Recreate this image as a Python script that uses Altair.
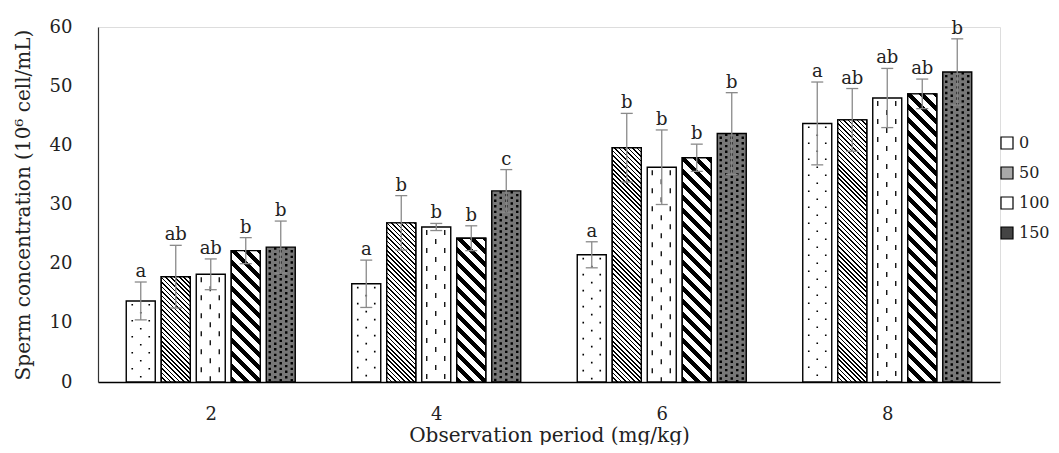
import json
import math
import altair as alt
import pandas as pd

# ---------------- data ----------------
periods = ["2", "4", "6", "8"]
doses = ["0", "50", "100", "150", "200"]
legend_doses = ["0", "50", "100", "150"]

mean_0 = [13.7, 16.6, 21.5, 43.7]
mean_50 = [17.8, 26.9, 39.6, 44.3]
mean_100 = [18.2, 26.2, 36.3, 48.0]
mean_150 = [22.2, 24.3, 37.9, 48.7]
mean_200 = [22.8, 32.3, 42.0, 52.4]

err_0 = [3.2, 4.0, 2.2, 7.0]
err_50 = [5.3, 4.6, 5.8, 5.3]
err_100 = [2.6, 0.6, 6.3, 5.0]
err_150 = [2.2, 2.1, 2.3, 2.5]
err_200 = [4.4, 3.6, 6.9, 5.6]

letters_0 = ["a", "a", "a", "a"]
letters_50 = ["ab", "b", "b", "ab"]
letters_100 = ["ab", "b", "b", "ab"]
letters_150 = ["b", "b", "b", "ab"]
letters_200 = ["b", "c", "b", "b"]

y_ticks = [0, 10, 20, 30, 40, 50, 60]

# ---------------- layout / style ----------------
W, H = 902, 355
YMAX = 60
PX = W / len(periods)   # pixels per x unit (one period band)
PY = H / YMAX           # pixels per y unit
PITCH = 35              # px between bar centres
BW = 29                 # bar width px
CAP = 6                 # half-width of error caps px
FONT = "DejaVu Serif"

means = [mean_0, mean_50, mean_100, mean_150, mean_200]
errs = [err_0, err_50, err_100, err_150, err_200]
letters = [letters_0, letters_50, letters_100, letters_150, letters_200]

rows = []
for i, d in enumerate(doses):
    for g, p in enumerate(periods):
        m, e = means[i][g], errs[i][g]
        c = g + 0.5 + (i - 2) * PITCH / PX
        rows.append(dict(period=p, dose=d, g=g, mean=m, err=e, lo=m - e, hi=m + e,
                         letter=letters[i][g], xc=c,
                         x0=c - BW / 2 / PX, x1=c + BW / 2 / PX,
                         c0=c - CAP / PX, c1=c + CAP / PX))
df = pd.DataFrame(rows)

# texture columns (px offsets from bar centre, phase)
tex_cols = {
    "0": [(-8.5, "A"), (8.5, "A"), (0.0, "B")],
    "100": [(-9.5, "A"), (8.5, "A"), (-0.5, "B")],
    "200": [(-11, "A"), (0, "A"), (11, "A"), (-5.5, "B"), (5.5, "B")],
}
tex_rows = []
for r in rows:
    if r["dose"] in tex_cols:
        for off, ph in tex_cols[r["dose"]]:
            tex_rows.append(dict(dose=r["dose"], phase=ph, x=r["xc"] + off / PX, top=r["mean"]))
tex = pd.DataFrame(tex_rows)

label_expr = json.dumps(periods) + "[floor(datum.value)]"

XSCALE = alt.Scale(domain=[0, len(periods)], nice=False, zero=False)
YSCALE = alt.Scale(domain=[0, YMAX], nice=False)

XAXIS = alt.Axis(values=[g + 0.5 for g in range(len(periods))], labelExpr=label_expr,
                 ticks=False, tickSize=0, grid=False, domainColor="black", domainWidth=1.5,
                 labelPadding=23, labelFont=FONT, labelFontSize=18, labelColor="#222",
                 title="Observation period (mg/kg)", titleFont=FONT, titleFontSize=20,
                 titleFontWeight="normal", titleColor="#222", titleY=59,
                 titleBaseline="alphabetic")
YAXIS = alt.Axis(values=y_ticks, ticks=False, tickSize=0, grid=False, domainColor="#333",
                 domainWidth=1.2, labelPadding=26, labelFont=FONT, labelFontSize=18,
                 labelColor="#222", title="Sperm concentration  (10⁶ cell/mL)",
                 titleFont=FONT, titleFontSize=20, titleFontWeight="normal",
                 titleColor="#222", titleX=-69, titleY=H / 2, titleBaseline="alphabetic")


def X(f):
    return alt.X(f, type="quantitative", scale=XSCALE, axis=XAXIS)


def Y(f):
    return alt.Y(f, type="quantitative", scale=YSCALE, axis=YAXIS)


base = alt.Chart(df)

bars = base.mark_bar(stroke="black", strokeWidth=1.4).encode(
    x=X("x0"), x2="x1", y=Y("mean"), y2=alt.datum(0),
    fill=alt.Fill("dose:N", scale=alt.Scale(domain=doses,
                  range=["white", "#a9a9a9", "white", "#444444", "#777777"]),
                  legend=alt.Legend(values=legend_doses, title=None, orient="none",
                                    legendX=901, legendY=108, symbolType="square",
                                    symbolSize=144, symbolStrokeColor="black",
                                    symbolStrokeWidth=1.2, labelFont=FONT,
                                    labelFontSize=16, labelColor="#222", rowPadding=12,
                                    labelOffset=4, padding=0)),
)


def stripes(h_px, period, duty):
    w = BW
    h = max(h_px, 1.0)
    k = (w + h) / (w * w + h * h)
    n = (w + h) / math.sqrt(2) / period
    stops = []
    i = 0
    while i / n < 1:
        a = i / n
        b = min((i + duty) / n, 1)
        c = min((i + 1) / n, 1)
        stops += [{"offset": round(a, 5), "color": "black"},
                  {"offset": round(b, 5), "color": "black"},
                  {"offset": round(b, 5), "color": "white"},
                  {"offset": round(c, 5), "color": "white"}]
        i += 1
    return {"gradient": "linear", "x1": 0, "y1": 1, "x2": round(k * w, 5),
            "y2": round(1 - k * h, 5), "stops": stops}


hatch_layers = []
for d, period, duty in [("50", 3.2, 0.36), ("150", 9.2, 0.45)]:
    i = doses.index(d)
    for g in range(len(periods)):
        grad = stripes(means[i][g] * PY, period, duty)
        hatch_layers.append(
            base.transform_filter(f"datum.dose == '{d}' && datum.g == {g}")
            .mark_bar(fill=grad, stroke="black", strokeWidth=1.4)
            .encode(x=X("x0"), x2="x1", y=Y("mean"), y2=alt.datum(0))
        )

tex_specs = {
    "0": dict(dash=[1.6, 14.4], width=1.6),
    "100": dict(dash=[5, 13], width=1.3),
    "200": dict(dash=[2.4, 3.2], width=2.4),
}
tex_layers = []
for d, s in tex_specs.items():
    period = sum(s["dash"])
    for ph, shift in [("A", 0.0), ("B", period / 2)]:
        off = (period - 3 - shift) % period
        tex_layers.append(
            alt.Chart(tex).transform_filter(f"datum.dose == '{d}' && datum.phase == '{ph}'")
            .mark_rule(color="black", strokeWidth=s["width"], strokeDash=s["dash"],
                       strokeDashOffset=off)
            .encode(x=X("x"), y=Y("top"), y2=alt.datum(0))
        )

err_color = "#8a8a8a"
err_v = base.mark_rule(color=err_color, strokeWidth=1.3).encode(x=X("xc"), y=Y("lo"), y2="hi")
cap_hi = base.mark_rule(color=err_color, strokeWidth=1.3).encode(x=X("c0"), x2="c1", y=Y("hi"))
cap_lo = base.mark_rule(color=err_color, strokeWidth=1.3).encode(x=X("c0"), x2="c1", y=Y("lo"))

labels = base.mark_text(font=FONT, fontSize=18, color="#222", baseline="bottom", dy=-1).encode(
    x=X("xc"), y=Y("hi"), text="letter:N")

chart = alt.layer(bars, *hatch_layers, *tex_layers, err_v, cap_hi, cap_lo, labels).properties(
    width=W, height=H,
    padding={"left": 90, "top": 19, "right": 51, "bottom": 63},
    autosize=alt.AutoSizeParams(type="none"),
).configure_view(stroke=None).configure(background="white")

chart.save("out.html", embed_options={"renderer": "svg", "actions": False})
